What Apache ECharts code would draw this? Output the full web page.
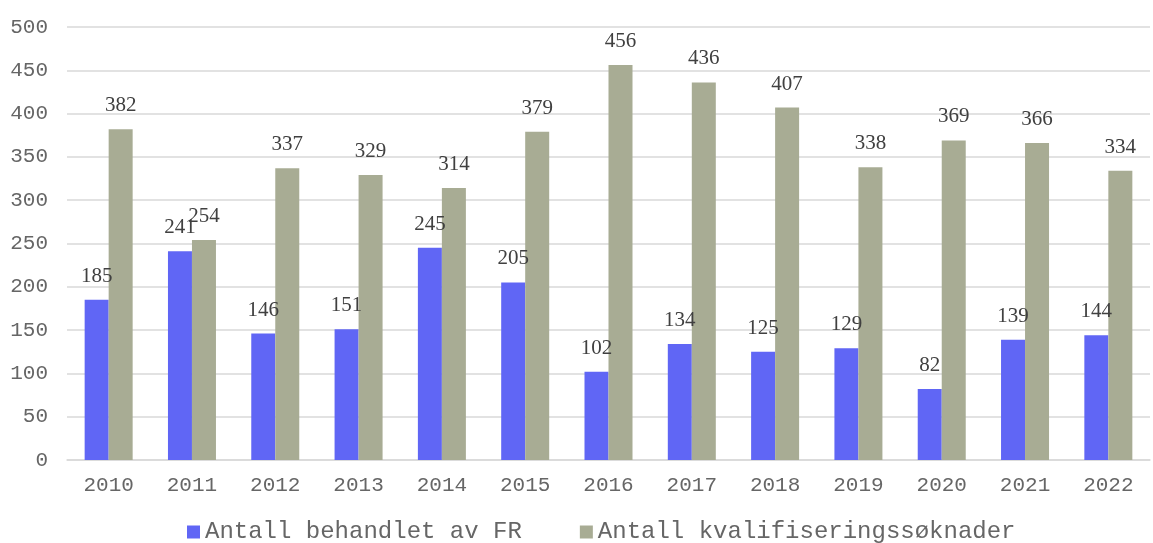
<!DOCTYPE html>
<html>
<head>
<meta charset="utf-8">
<script src="https://cdn.jsdelivr.net/npm/echarts@6/dist/echarts.min.js"></script>
<style>
  html, body { margin: 0; padding: 0; background: #fff; }
  #chart { width: 1153px; height: 543px; }
</style>
</head>
<body>
<div id="chart"></div>
<script>
// år
const years = ['2010', '2011', '2012', '2013', '2014', '2015', '2016', '2017', '2018', '2019', '2020', '2021', '2022']
// Antall behandlet av FR
const behandlet = [185, 241, 146, 151, 245, 205, 102, 134, 125, 129, 82, 139, 144]
// Antall kvalifiseringssøknader
const soknader = [382, 254, 337, 329, 314, 379, 456, 436, 407, 338, 369, 366, 334]

const MONO = '"Liberation Mono", "DejaVu Sans Mono", monospace'
const SERIF = '"Liberation Serif", "DejaVu Serif", serif'
const TEXT = '#666666'

const chart = echarts.init(document.getElementById('chart'))

const label = {
  show: true,
  position: 'top',
  distance: 13,
  color: '#404040',
  fontFamily: SERIF,
  fontSize: 21,
}

chart.setOption({
  animation: false,
  grid: { left: 67, right: 3, top: 27, bottom: 83 },
  legend: {
    left: 182,
    top: 515,
    itemWidth: 13,
    itemHeight: 13,
    itemGap: 58,
    icon: 'rect',
    textStyle: { color: TEXT, fontFamily: MONO, fontSize: 24 },
  },
  xAxis: {
    type: 'category',
    data: years,
    axisTick: { show: false },
    axisLine: { lineStyle: { color: '#d9d9d9', width: 1.5 } },
    axisLabel: { color: TEXT, fontFamily: MONO, fontSize: 21, margin: 15 },
  },
  yAxis: {
    type: 'value',
    min: 0,
    max: 500,
    interval: 50,
    axisLine: { show: false },
    axisTick: { show: false },
    splitLine: { lineStyle: { color: '#d9d9d9', width: 1.5 } },
    axisLabel: { color: TEXT, fontFamily: MONO, fontSize: 21, margin: 19 },
  },
  series: [
    {
      name: 'Antall behandlet av FR',
      type: 'bar',
      data: behandlet,
      barWidth: 24,
      barGap: '0%',
      itemStyle: { color: '#6066f5' },
      label,
    },
    {
      name: 'Antall kvalifiseringssøknader',
      type: 'bar',
      data: soknader,
      barWidth: 24,
      itemStyle: { color: '#a8ac94' },
      label,
    },
  ],
})
</script>
</body>
</html>
